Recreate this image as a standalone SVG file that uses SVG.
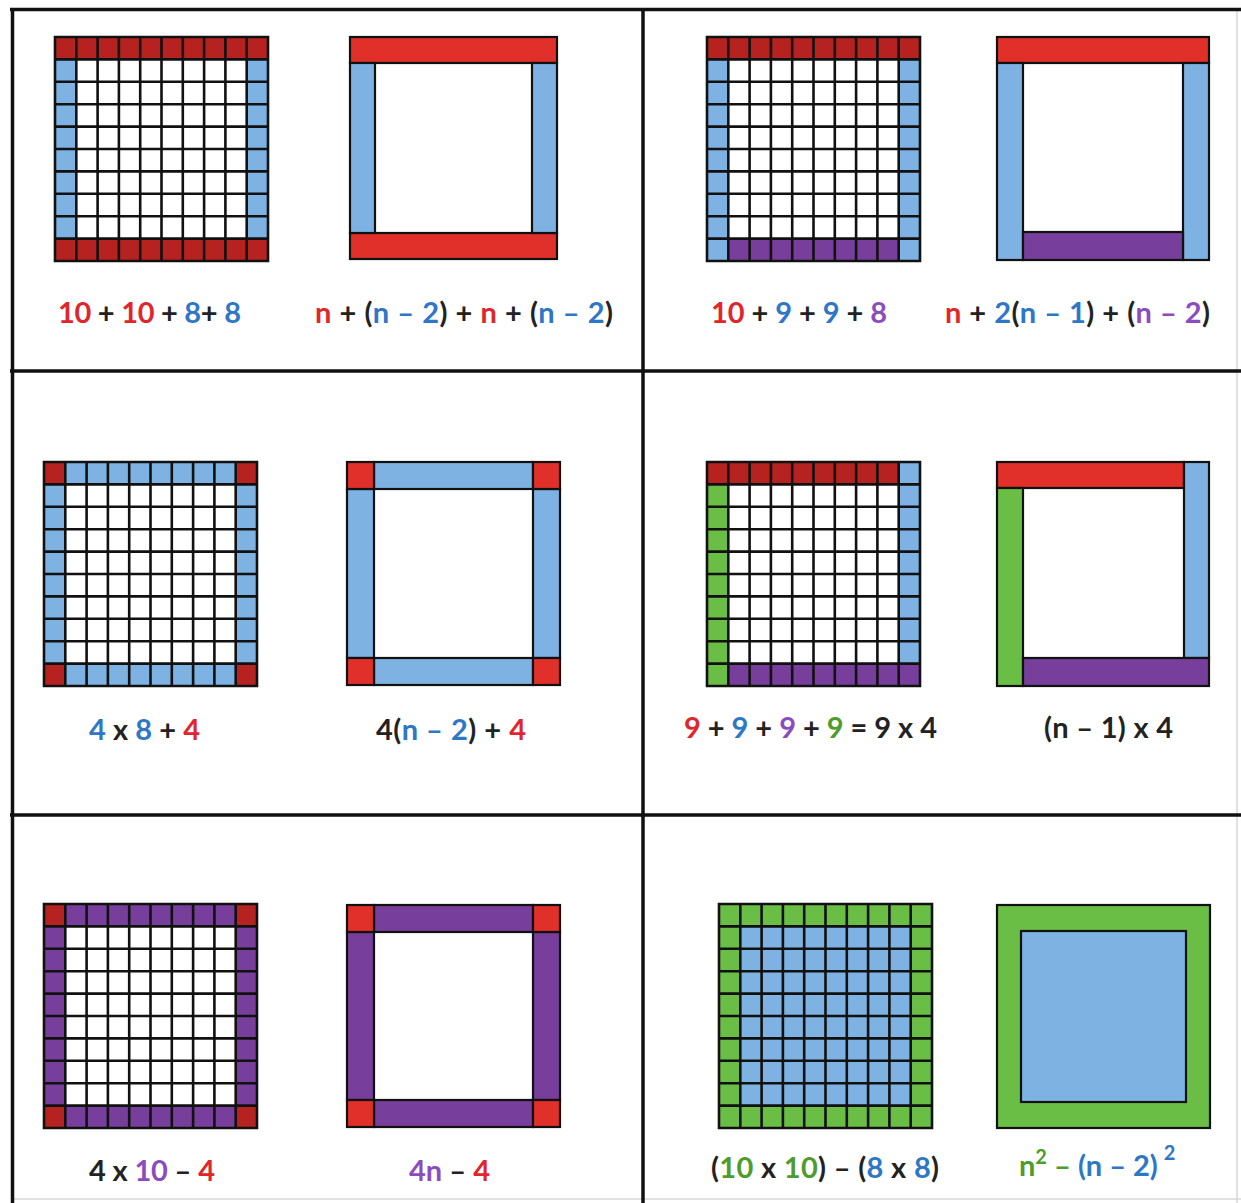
<svg xmlns="http://www.w3.org/2000/svg" xmlns:xlink="http://www.w3.org/1999/xlink" width="1241" height="1203" viewBox="0 0 1241 1203">
<style>
.dr{fill:#B5221F}
.rd{fill:#E1302A}
.bl{fill:#7DB2E2}
.pu{fill:#773E9B}
.gr{fill:#6BBE45}
.fr rect{stroke:#111;stroke-width:2.2}
.gl{fill:none;stroke:#111;stroke-width:2.6;stroke-linecap:square}
.lbl{font-family:Lato,"Open Sans","Liberation Sans",sans-serif;font-weight:bold;font-size:29px;fill:#222}
.tr{fill:#E0262C}
.tb{fill:#2E76C6}
.tp{fill:#8B4DBD}
.tg{fill:#4E9B2E}
.sup{font-size:20px}
.tbl{stroke:#111;stroke-width:3.5;fill:none}
.faint{stroke:#d8d8d8;stroke-width:1.5;fill:none}
</style>
<defs>
<path id="gridlines" class="gl" d="M0 0V224M21.3 0V224M42.6 0V224M63.9 0V224M85.2 0V224M106.5 0V224M127.8 0V224M149.1 0V224M170.4 0V224M191.7 0V224M213 0V224M0 0H213M0 22.4H213M0 44.8H213M0 67.2H213M0 89.6H213M0 112H213M0 134.4H213M0 156.8H213M0 179.2H213M0 201.6H213M0 224H213"/>
</defs>
<rect x="0" y="0" width="1241" height="1203" fill="#fff"/>

<g id="table-lines">
<path class="faint" d="M12 1199H1241M1237 9V1203"/>
<path class="tbl" d="M10 9.5H1241M12.5 8V1203M643 8V1203M10 371H1241M10 815H1241"/>
</g>

<g id="panel-1">
<g id="grid-1" transform="translate(55,37)">
<rect class="dr" x="0" y="0" width="213" height="22.4"/>
<rect class="dr" x="0" y="201.6" width="213" height="22.4"/>
<rect class="bl" x="0" y="22.4" width="21.3" height="179.2"/>
<rect class="bl" x="191.7" y="22.4" width="21.3" height="179.2"/>
<use xlink:href="#gridlines"/>
</g>
<g id="frame-1" class="fr">
<rect class="rd" x="350" y="37" width="207" height="26"/>
<rect class="rd" x="350" y="233" width="207" height="26"/>
<rect class="bl" x="350" y="63" width="25" height="170"/>
<rect class="bl" x="532" y="63" width="25" height="170"/>
</g>
<text class="lbl" x="58" y="323" textLength="183" lengthAdjust="spacing"><tspan class="tr">10</tspan> + <tspan class="tr">10</tspan> + <tspan class="tb">8</tspan>+ <tspan class="tb">8</tspan></text>
<text class="lbl" x="315" y="323" textLength="298" lengthAdjust="spacing"><tspan class="tr">n</tspan> + (<tspan class="tb">n – 2</tspan>) + <tspan class="tr">n</tspan> + (<tspan class="tb">n – 2</tspan>)</text>
</g>

<g id="panel-2">
<g id="grid-2" transform="translate(707,37)">
<rect class="dr" x="0" y="0" width="213" height="22.4"/>
<rect class="bl" x="0" y="22.4" width="21.3" height="201.6"/>
<rect class="bl" x="191.7" y="22.4" width="21.3" height="201.6"/>
<rect class="pu" x="21.3" y="201.6" width="170.4" height="22.4"/>
<use xlink:href="#gridlines"/>
</g>
<g id="frame-2" class="fr">
<rect class="rd" x="997" y="37" width="212" height="26"/>
<rect class="bl" x="997" y="63" width="26" height="197"/>
<rect class="bl" x="1183" y="63" width="26" height="197"/>
<rect class="pu" x="1023" y="232" width="160" height="28"/>
</g>
<text class="lbl" x="711" y="323" textLength="176" lengthAdjust="spacing"><tspan class="tr">10</tspan> + <tspan class="tb">9</tspan> + <tspan class="tb">9</tspan> + <tspan class="tp">8</tspan></text>
<text class="lbl" x="945" y="323" textLength="265" lengthAdjust="spacing"><tspan class="tr">n</tspan> + <tspan class="tb">2</tspan>(<tspan class="tb">n – 1</tspan>) + (<tspan class="tp">n – 2</tspan>)</text>
</g>

<g id="panel-3">
<g id="grid-3" transform="translate(44,462)">
<rect class="bl" x="0" y="0" width="213" height="22.4"/>
<rect class="bl" x="0" y="201.6" width="213" height="22.4"/>
<rect class="bl" x="0" y="22.4" width="21.3" height="179.2"/>
<rect class="bl" x="191.7" y="22.4" width="21.3" height="179.2"/>
<rect class="dr" x="0" y="0" width="21.3" height="22.4"/>
<rect class="dr" x="191.7" y="0" width="21.3" height="22.4"/>
<rect class="dr" x="0" y="201.6" width="21.3" height="22.4"/>
<rect class="dr" x="191.7" y="201.6" width="21.3" height="22.4"/>
<use xlink:href="#gridlines"/>
</g>
<g id="frame-3" class="fr">
<rect class="bl" x="374" y="462" width="159" height="27"/>
<rect class="bl" x="374" y="658" width="159" height="27"/>
<rect class="bl" x="347" y="489" width="27" height="169"/>
<rect class="bl" x="533" y="489" width="27" height="169"/>
<rect class="rd" x="347" y="462" width="27" height="27"/>
<rect class="rd" x="533" y="462" width="27" height="27"/>
<rect class="rd" x="347" y="658" width="27" height="27"/>
<rect class="rd" x="533" y="658" width="27" height="27"/>
</g>
<text class="lbl" x="89" y="740" textLength="111" lengthAdjust="spacing"><tspan class="tb">4</tspan> x <tspan class="tb">8</tspan> + <tspan class="tr">4</tspan></text>
<text class="lbl" x="376" y="740" textLength="150" lengthAdjust="spacing">4(<tspan class="tb">n – 2</tspan>) + <tspan class="tr">4</tspan></text>
</g>

<g id="panel-4">
<g id="grid-4" transform="translate(707,462)">
<rect class="dr" x="0" y="0" width="191.7" height="22.4"/>
<rect class="bl" x="191.7" y="0" width="21.3" height="201.6"/>
<rect class="pu" x="21.3" y="201.6" width="191.7" height="22.4"/>
<rect class="gr" x="0" y="22.4" width="21.3" height="201.6"/>
<use xlink:href="#gridlines"/>
</g>
<g id="frame-4" class="fr">
<rect class="rd" x="997" y="462" width="187" height="26"/>
<rect class="bl" x="1184" y="462" width="25" height="196"/>
<rect class="gr" x="997" y="488" width="26" height="198"/>
<rect class="pu" x="1023" y="658" width="186" height="28"/>
</g>
<text class="lbl" x="684" y="738" textLength="253" lengthAdjust="spacing"><tspan class="tr">9</tspan> + <tspan class="tb">9</tspan> + <tspan class="tp">9</tspan> + <tspan class="tg">9</tspan> = 9 x 4</text>
<text class="lbl" x="1044" y="738" textLength="129" lengthAdjust="spacing">(n – 1) x 4</text>
</g>

<g id="panel-5">
<g id="grid-5" transform="translate(44,904)">
<rect class="pu" x="0" y="0" width="213" height="22.4"/>
<rect class="pu" x="0" y="201.6" width="213" height="22.4"/>
<rect class="pu" x="0" y="22.4" width="21.3" height="179.2"/>
<rect class="pu" x="191.7" y="22.4" width="21.3" height="179.2"/>
<rect class="dr" x="0" y="0" width="21.3" height="22.4"/>
<rect class="dr" x="191.7" y="0" width="21.3" height="22.4"/>
<rect class="dr" x="0" y="201.6" width="21.3" height="22.4"/>
<rect class="dr" x="191.7" y="201.6" width="21.3" height="22.4"/>
<use xlink:href="#gridlines"/>
</g>
<g id="frame-5" class="fr">
<rect class="pu" x="374" y="905" width="159" height="27"/>
<rect class="pu" x="374" y="1100" width="159" height="27"/>
<rect class="pu" x="347" y="932" width="27" height="168"/>
<rect class="pu" x="533" y="932" width="27" height="168"/>
<rect class="rd" x="347" y="905" width="27" height="27"/>
<rect class="rd" x="533" y="905" width="27" height="27"/>
<rect class="rd" x="347" y="1100" width="27" height="27"/>
<rect class="rd" x="533" y="1100" width="27" height="27"/>
</g>
<text class="lbl" x="89" y="1181" textLength="126" lengthAdjust="spacing">4 x <tspan class="tp">10</tspan> – <tspan class="tr">4</tspan></text>
<text class="lbl" x="409" y="1181" textLength="81" lengthAdjust="spacing"><tspan class="tp">4n</tspan> – <tspan class="tr">4</tspan></text>
</g>

<g id="panel-6">
<g id="grid-6" transform="translate(719,904)">
<rect class="gr" x="0" y="0" width="213" height="224"/>
<rect class="bl" x="21.3" y="22.4" width="170.4" height="179.2"/>
<use xlink:href="#gridlines"/>
</g>
<g id="frame-6" class="fr">
<rect class="gr" x="997" y="905" width="213" height="223"/>
<rect class="bl" x="1021" y="931" width="165" height="171"/>
</g>
<text class="lbl" x="711" y="1178" textLength="228" lengthAdjust="spacing">(<tspan class="tg">10</tspan> x <tspan class="tg">10</tspan>) – (<tspan class="tb">8</tspan> x <tspan class="tb">8</tspan>)</text>
<text class="lbl" x="1019" y="1176"><tspan class="tg">n</tspan><tspan class="tg sup" dy="-12">2</tspan><tspan class="tg" dy="12"> – </tspan><tspan class="tb">(n – 2)</tspan><tspan class="tb sup" dx="6" dy="-16">2</tspan></text>
</g>
</svg>
